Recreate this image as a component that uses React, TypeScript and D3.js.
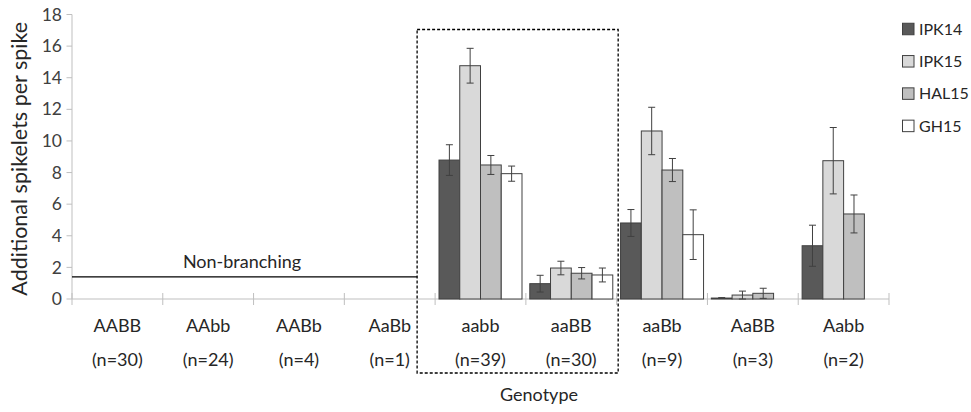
import React from 'react'
import * as d3 from 'd3'

// genotype classes along the x axis
const genotypes = ['AABB', 'AAbb', 'AABb', 'AaBb', 'aabb', 'aaBB', 'aaBb', 'AaBB', 'Aabb']
const counts = ['(n=30)', '(n=24)', '(n=4)', '(n=1)', '(n=39)', '(n=30)', '(n=9)', '(n=3)', '(n=2)']

const seriesNames = ['IPK14', 'IPK15', 'HAL15', 'GH15']
const seriesColors = ['#595959', '#d9d9d9', '#bfbfbf', '#ffffff']

// mean additional spikelets (null = not measured)
const ipk14 = [null, null, null, null, 8.79, 0.97, 4.81, 0.06, 3.37]
const ipk15 = [null, null, null, null, 14.76, 1.96, 10.63, 0.25, 8.75]
const hal15 = [null, null, null, null, 8.48, 1.63, 8.16, 0.36, 5.38]
const gh15 = [null, null, null, null, 7.93, 1.52, 4.07, null, null]

// standard errors
const ipk14Err = [null, null, null, null, 0.97, 0.53, 0.85, 0.03, 1.3]
const ipk15Err = [null, null, null, null, 1.1, 0.43, 1.5, 0.25, 2.1]
const hal15Err = [null, null, null, null, 0.6, 0.36, 0.73, 0.32, 1.2]
const gh15Err = [null, null, null, null, 0.48, 0.44, 1.57, null, null]

const yTicks = [0, 2, 4, 6, 8, 10, 12, 14, 16, 18]

// non-branching genotypes shown by a flat line
const nonBranching = ['AABB', 'AAbb', 'AABb', 'AaBb']
const nonBranchingLevel = 1.4
// highlighted block
const boxed = ['aabb', 'aaBB']

const W = 971
const H = 412
const font = 'Lato, "Open Sans", sans-serif'

const App = () => {
  const x = d3.scaleBand().domain(genotypes).range([72, 889])
  const x1 = d3.scaleBand().domain(seriesNames).range([0, x.bandwidth()]).paddingOuter(0.1875)
  const y = d3.scaleLinear().domain([0, 18]).range([299, 14.5])

  const values = [ipk14, ipk15, hal15, gh15]
  const errs = [ipk14Err, ipk15Err, hal15Err, gh15Err]

  const bars = []
  seriesNames.forEach((s, si) => {
    genotypes.forEach((g, gi) => {
      const v = values[si][gi]
      if (v == null) return
      bars.push({s, si, g, v, e: errs[si][gi]})
    })
  })

  const boxLeft = x(boxed[0]) - 18
  const boxRight = x(boxed[1]) + x.bandwidth() + 1.5

  return (
    <svg width={W} height={H} style={{position: 'absolute', left: 0, top: 0, display: 'block'}}
      fontFamily={font}>
      <rect width={W} height={H} fill="#fff" />

      {/* y axis */}
      <line x1={72} x2={72} y1={y(18)} y2={y(0)} stroke="#bfbfbf" />
      {yTicks.map(t => (
        <g key={t}>
          <line x1={66.5} x2={72} y1={y(t)} y2={y(t)} stroke="#bfbfbf" />
          <text x={62} y={y(t)} dy="0.35em" textAnchor="end" fontSize={17.5} fill="#404040">{t}</text>
        </g>
      ))}
      <text transform={`translate(27,${(y(0) + y(18)) / 2 + 2}) rotate(-90)`} textAnchor="middle"
        fontSize={21.5} fill="#262626">Additional spikelets per spike</text>

      {/* x axis */}
      <line x1={72} x2={889} y1={y(0)} y2={y(0)} stroke="#bfbfbf" />
      {genotypes.concat(['end']).map((g, i) => {
        const tx = 72 + i * x.step()
        return <line key={g + i} x1={tx} x2={tx} y1={y(0) - 6} y2={y(0) + 6} stroke="#bfbfbf" />
      })}
      {genotypes.map((g, i) => (
        <g key={g}>
          <text x={x(g) + x.bandwidth() / 2} y={332} textAnchor="middle" fontSize={18} fill="#262626">{g}</text>
          <text x={x(g) + x.bandwidth() / 2} y={366} textAnchor="middle" fontSize={18} fill="#262626">{counts[i]}</text>
        </g>
      ))}
      <text x={539} y={401} textAnchor="middle" fontSize={18} fill="#262626">Genotype</text>

      {/* bars */}
      {bars.map(b => (
        <rect key={b.s + b.g} x={x(b.g) + x1(b.s)} y={y(b.v)} width={x1.bandwidth()}
          height={y(0) - y(b.v)} fill={seriesColors[b.si]} stroke="#404040" strokeWidth={1} />
      ))}
      {/* error bars */}
      {bars.filter(b => b.e != null).map(b => {
        const cx = x(b.g) + x1(b.s) + x1.bandwidth() / 2
        const top = y(b.v + b.e)
        const bot = y(Math.max(0, b.v - b.e))
        return (
          <g key={'e' + b.s + b.g} stroke="#404040" strokeWidth={1}>
            <line x1={cx} x2={cx} y1={top} y2={bot} />
            <line x1={cx - 3.5} x2={cx + 3.5} y1={top} y2={top} />
            <line x1={cx - 3.5} x2={cx + 3.5} y1={bot} y2={bot} />
          </g>
        )
      })}

      {/* non-branching line */}
      <line x1={x(nonBranching[0])} x2={boxLeft} y1={y(nonBranchingLevel)} y2={y(nonBranchingLevel)}
        stroke="#000" strokeWidth={1.3} />
      <text x={242} y={268} textAnchor="middle" fontSize={18} fill="#262626">Non-branching</text>

      {/* dashed box */}
      <rect x={boxLeft} y={29.5} width={boxRight - boxLeft} height={373 - 29.5} fill="none"
        stroke="#000" strokeWidth={1.3} strokeDasharray="3,2" />

      {/* legend */}
      {seriesNames.map((s, i) => {
        const cy = 29 + i * 32.3
        return (
          <g key={s}>
            <rect x={902.5} y={cy - 5.75} width={11.5} height={11.5} fill={seriesColors[i]} stroke="#404040" />
            <text x={919} y={cy} dy="0.36em" fontSize={16} fill="#262626">{s}</text>
          </g>
        )
      })}
    </svg>
  )
}

export default App
